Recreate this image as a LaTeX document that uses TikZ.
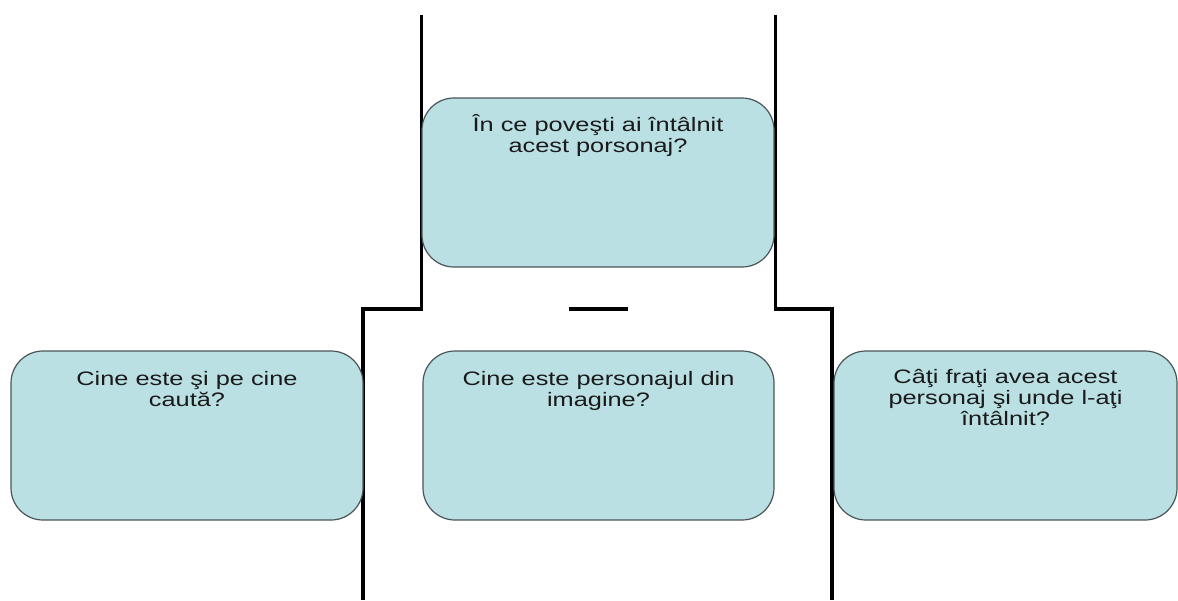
\documentclass[tikz,border=0pt]{standalone}
\usepackage{fontspec}
\setmainfont{Liberation Sans}
\newfontfamily\widefont[FakeStretch=1.3]{Liberation Sans}
\definecolor{boxfill}{HTML}{BAE0E3}
\definecolor{boxline}{HTML}{4A5558}
\definecolor{txt}{HTML}{1A1A1A}
\begin{document}
\begin{tikzpicture}[x=1pt,y=-1pt,
  qbox/.style={draw=boxline, fill=boxfill, line width=1.2pt, rounded corners=32pt, inner sep=0pt},
  qtext/.style={anchor=north, align=center, inner sep=0pt, text=txt, font=\widefont\fontsize{19.5}{21.2}\selectfont},
  wall/.style={draw=black, line width=3.2pt, line cap=butt, line join=miter}]
\useasboundingbox (0,0) rectangle (1178,600);
% walls
\coordinate (lt) at (421.5,15);
\coordinate (lm) at (421.5,309);
\coordinate (lk) at (363,309);
\coordinate (lb) at (363,600);
\coordinate (rt) at (775.5,15);
\coordinate (rm) at (775.5,309);
\coordinate (rk) at (832,309);
\coordinate (rb) at (832,600);
\coordinate (da) at (569,309);
\coordinate (db) at (628,309);
\draw[wall] (lt) -- (lm) -- (lk) -- (lb);
\draw[wall] (rt) -- (rm) -- (rk) -- (rb);
\draw[wall] (da) -- (db);
% boxes
\draw[qbox] (422,98) rectangle (774,267);
\node[minimum width=352pt, minimum height=169pt, inner sep=0pt] (top) at (598,182.5) {};
\draw[qbox] (11,351) rectangle (363,520);
\node[minimum width=352pt, minimum height=169pt, inner sep=0pt] (left) at (187,435.5) {};
\draw[qbox] (423,351) rectangle (774,520);
\node[minimum width=351pt, minimum height=169pt, inner sep=0pt] (mid) at (598.5,435.5) {};
\draw[qbox] (834,351) rectangle (1177,520);
\node[minimum width=343pt, minimum height=169pt, inner sep=0pt] (right) at (1005.5,435.5) {};
% texts
\node[qtext] (ttop) at ([yshift=-16pt]top.north) {În ce poveşti ai întâlnit\\acest porsonaj?};
\node[qtext] (tleft) at ([yshift=-20pt]left.north) {Cine este şi pe cine\\caută?};
\node[qtext] (tmid) at ([yshift=-20pt]mid.north) {Cine este personajul din\\imagine?};
\node[qtext] (tright) at ([yshift=-18pt]right.north) {Câţi fraţi avea acest\\personaj şi unde l-aţi\\întâlnit?};
\end{tikzpicture}
\end{document}
